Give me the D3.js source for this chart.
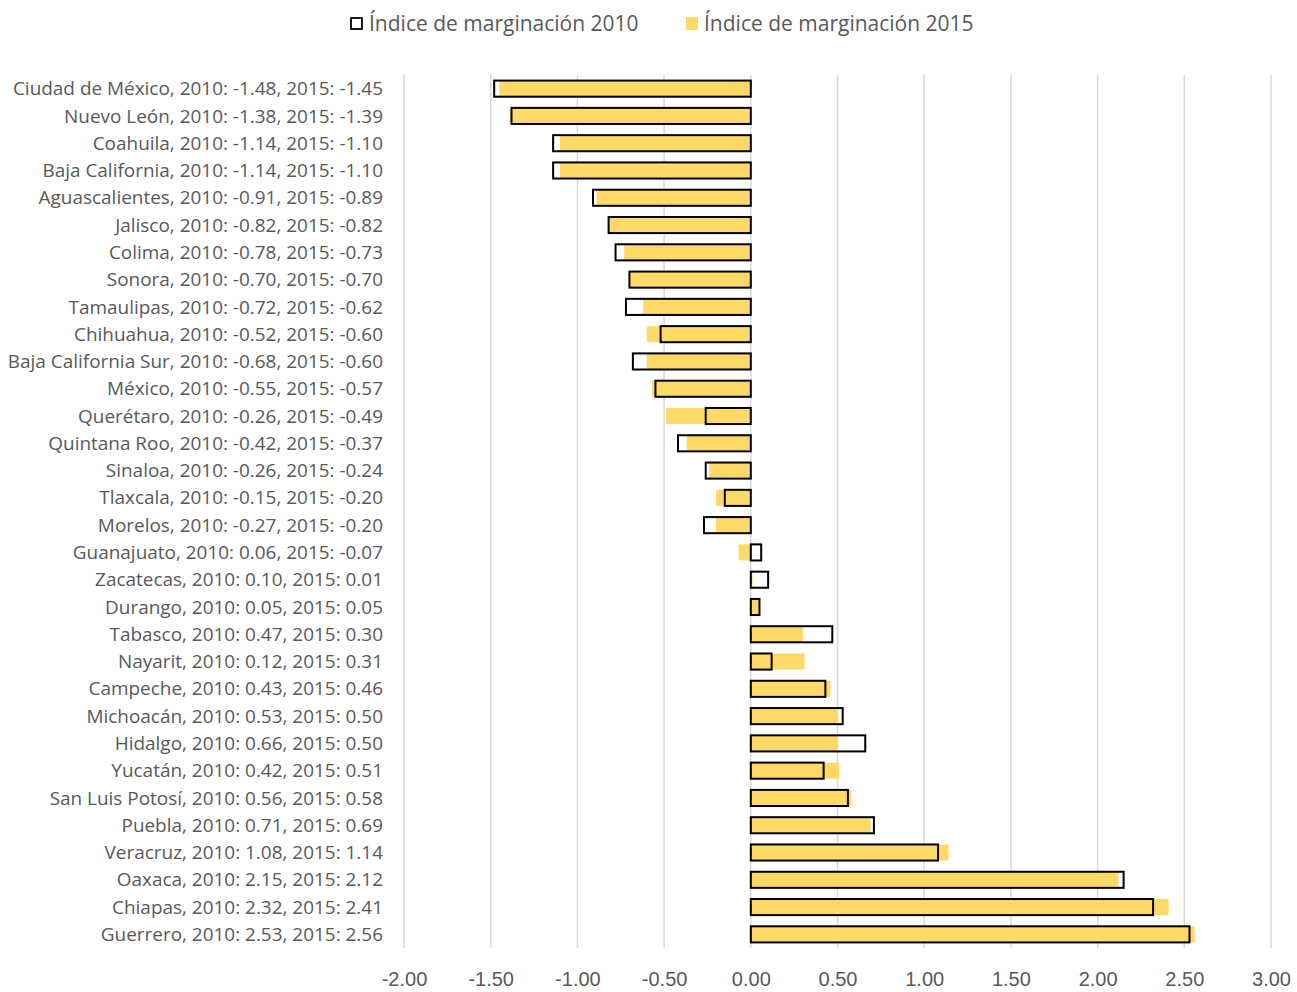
<!DOCTYPE html>
<html>
<head>
<meta charset="utf-8">
<script src="https://cdn.jsdelivr.net/npm/d3@7"></script>
<style>
  html, body { margin: 0; padding: 0; background: #fff; }
  svg { display: block; font-family: "Open Sans", "Liberation Sans", sans-serif; }
</style>
</head>
<body>
<svg id="chart" width="1297" height="992"></svg>
<script>
// States, ordered from least to most marginalized
const states = [
  "Ciudad de México", "Nuevo León", "Coahuila", "Baja California", "Aguascalientes",
  "Jalisco", "Colima", "Sonora", "Tamaulipas", "Chihuahua", "Baja California Sur",
  "México", "Querétaro", "Quintana Roo", "Sinaloa", "Tlaxcala", "Morelos",
  "Guanajuato", "Zacatecas", "Durango", "Tabasco", "Nayarit", "Campeche",
  "Michoacán", "Hidalgo", "Yucatán", "San Luis Potosí", "Puebla", "Veracruz",
  "Oaxaca", "Chiapas", "Guerrero"
];

// Marginalization index, 2010
const index2010 = [
  -1.48, -1.38, -1.14, -1.14, -0.91, -0.82, -0.78, -0.70, -0.72, -0.52, -0.68,
  -0.55, -0.26, -0.42, -0.26, -0.15, -0.27, 0.06, 0.10, 0.05, 0.47, 0.12, 0.43,
  0.53, 0.66, 0.42, 0.56, 0.71, 1.08, 2.15, 2.32, 2.53
];

// Marginalization index, 2015
const index2015 = [
  -1.45, -1.39, -1.10, -1.10, -0.89, -0.82, -0.73, -0.70, -0.62, -0.60, -0.60,
  -0.57, -0.49, -0.37, -0.24, -0.20, -0.20, -0.07, 0.01, 0.05, 0.30, 0.31, 0.46,
  0.50, 0.50, 0.51, 0.58, 0.69, 1.14, 2.12, 2.41, 2.56
];

const xTicks = [-2, -1.5, -1, -0.5, 0, 0.5, 1, 1.5, 2, 2.5, 3];
const seriesNames = ["Índice de marginación 2010", "Índice de marginación 2015"];

const rows = states.map((s, i) => ({ state: s, v2010: index2010[i], v2015: index2015[i] }));
// two decimals with a plain hyphen for negatives
const fmt = v => d3.format(".2f")(v).replace("\u2212", "-");
const label = d => `${d.state}, 2010: ${fmt(d.v2010)}, 2015: ${fmt(d.v2015)}`;

const svg = d3.select("#chart");
const margin = { top: 75, left: 404, right: 26, bottom: 44 };
const W = 1297, H = 992;

const x = d3.scaleLinear().domain([-2, 3]).range([margin.left, W - margin.right]);
const y = d3.scaleBand().domain(states).range([margin.top, H - margin.bottom]).paddingInner(0.41).paddingOuter(0.205);

const textColor = "#595959";
const gold = "#FFD966";

// vertical gridlines
svg.append("g").selectAll("line").data(xTicks).join("line")
  .attr("x1", d => x(d)).attr("x2", d => x(d))
  .attr("y1", margin.top).attr("y2", H - margin.bottom)
  .attr("stroke", "#D9D9D9").attr("stroke-width", 1.5);

// 2015 filled bars
svg.append("g").selectAll("rect").data(rows).join("rect")
  .attr("x", d => x(Math.min(0, d.v2015)))
  .attr("width", d => Math.abs(x(d.v2015) - x(0)))
  .attr("y", d => y(d.state))
  .attr("height", y.bandwidth())
  .attr("fill", gold);

// 2010 outlined bars
svg.append("g").selectAll("rect").data(rows).join("rect")
  .attr("x", d => x(Math.min(0, d.v2010)))
  .attr("width", d => Math.abs(x(d.v2010) - x(0)))
  .attr("y", d => y(d.state))
  .attr("height", y.bandwidth())
  .attr("fill", "none")
  .attr("stroke", "#000")
  .attr("stroke-width", 2);

// x axis tick labels
const xAxis = d3.axisBottom(x).tickValues(xTicks).tickFormat(fmt).tickSize(0).tickPadding(24);
const gx = svg.append("g").attr("transform", `translate(0,${H - margin.bottom})`).call(xAxis);
gx.select(".domain").remove();
gx.selectAll("text").attr("fill", textColor).style("font-size", "20px").style("font-family", "inherit");

// category labels
svg.append("g").selectAll("text").data(rows).join("text")
  .attr("x", 383)
  .attr("y", d => y(d.state) + y.bandwidth() / 2)
  .attr("dy", "0.35em")
  .attr("text-anchor", "end")
  .attr("fill", textColor)
  .style("font-size", "18.95px")
  .text(label);

// legend
const legend = svg.append("g");
legend.append("rect").attr("x", 351).attr("y", 18).attr("width", 11).attr("height", 11)
  .attr("fill", "none").attr("stroke", "#000").attr("stroke-width", 1.8);
legend.append("text").attr("x", 369).attr("y", 31).attr("fill", textColor)
  .style("font-size", "21px").text(seriesNames[0]);
legend.append("rect").attr("x", 686).attr("y", 17).attr("width", 12).attr("height", 13)
  .attr("fill", gold);
legend.append("text").attr("x", 704).attr("y", 31).attr("fill", textColor)
  .style("font-size", "21px").text(seriesNames[1]);
</script>
</body>
</html>
